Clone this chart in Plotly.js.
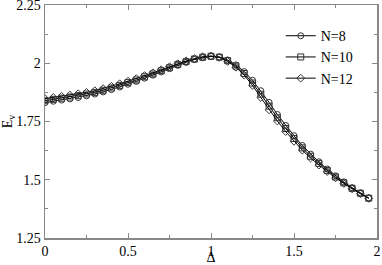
<!DOCTYPE html>
<html><head><meta charset="utf-8">
<script src="https://cdn.plot.ly/plotly-3.0.1.min.js"></script>
<style>html,body{margin:0;padding:0;background:#fff}#plot{width:382px;height:265px}</style>
</head><body><div id="plot"></div>
<script>
const delta = [0,0.05,0.1,0.15,0.2,0.25,0.3,0.35,0.4,0.45,0.5,0.55,0.6,0.65,0.7,0.75,0.8,0.85,0.9,0.95,1.0,1.05,1.1,1.15,1.2,1.25,1.3,1.35,1.4,1.45,1.5,1.55,1.6,1.65,1.7,1.75,1.8,1.85,1.9,1.95];
const eN8 = [1.831,1.837,1.842,1.847,1.853,1.860,1.868,1.877,1.887,1.898,1.910,1.922,1.936,1.949,1.963,1.977,1.991,2.004,2.016,2.024,2.029,2.027,2.014,1.993,1.964,1.927,1.882,1.832,1.780,1.733,1.689,1.647,1.610,1.577,1.546,1.517,1.491,1.466,1.444,1.422];
const eN10 = [1.839,1.845,1.850,1.855,1.861,1.868,1.875,1.884,1.894,1.905,1.917,1.928,1.942,1.954,1.968,1.981,1.995,2.007,2.018,2.026,2.030,2.026,2.011,1.988,1.956,1.915,1.867,1.816,1.766,1.720,1.677,1.637,1.601,1.570,1.540,1.512,1.487,1.463,1.442,1.421];
const eN12 = [1.848,1.853,1.858,1.863,1.869,1.875,1.882,1.891,1.901,1.912,1.923,1.934,1.947,1.959,1.972,1.985,1.998,2.010,2.020,2.028,2.031,2.025,2.008,1.983,1.949,1.905,1.853,1.800,1.752,1.707,1.665,1.627,1.593,1.563,1.535,1.508,1.484,1.461,1.440,1.420];
const names = ['N=8','N=10','N=12'];
const symbols = ['circle-open','square-open','diamond-open'];
const series = [eN8, eN10, eN12];
const xTicks = [0, 0.5, 1, 1.5, 2];
const xTickText = ['0','0.5','1','1.5','2'];
const yTicks = [1.25, 1.5, 1.75, 2, 2.25];
const yTickText = ['1.25','1.5','1.75','2','2.25'];

const traces = series.map((ys, i) => ({
  x: delta, y: ys, name: names[i], type: 'scatter', mode: 'lines+markers',
  line: {color: '#000', width: 1},
  marker: {symbol: symbols[i], size: 6, color: '#333', line: {color: '#333', width: 1}}
}));

const fam = 'Liberation Serif';
const font = {family: fam, size: 14, color: '#000'};
const axisCommon = {
  showgrid: false, zeroline: false, showline: true, mirror: 'ticks',
  linecolor: '#888', linewidth: 1.5, ticks: 'inside', ticklen: 5, tickwidth: 1, tickcolor: '#888',
  tickfont: {family: fam, size: 14, color: '#000'}, ticklabeloverflow: 'allow'
};
const layout = {
  width: 382, height: 265,
  margin: {l: 45, r: 5, t: 5, b: 27},
  paper_bgcolor: '#fff', plot_bgcolor: '#fff',
  font: font,
  showlegend: true,
  legend: {x: 0.71, y: 0.935, xanchor: 'left', yanchor: 'top', bgcolor: 'rgba(0,0,0,0)',
           font: {family: fam, size: 14, color: '#000'}, tracegroupgap: 0, itemwidth: 30},
  xaxis: Object.assign({}, axisCommon, {range: [0, 2], tickvals: xTicks, ticktext: xTickText,
    minor: {ticks: 'inside', ticklen: 3, tickwidth: 1, tickcolor: '#888', dtick: 0.25, tick0: 0},
    title: {text: 'Δ', font: {family: fam, size: 14, color: '#000'}, standoff: 0}}),
  yaxis: Object.assign({}, axisCommon, {range: [1.25, 2.25], tickvals: yTicks, ticktext: yTickText,
    minor: {ticks: 'inside', ticklen: 3, tickwidth: 1, tickcolor: '#888', dtick: 0.125, tick0: 1.25},
    title: {text: 'E<sub>v</sub>', font: {family: fam, size: 14, color: '#000'}, standoff: 2}})
};
Plotly.newPlot('plot', traces, layout, {displayModeBar: false, staticPlot: true});
</script></body></html>
